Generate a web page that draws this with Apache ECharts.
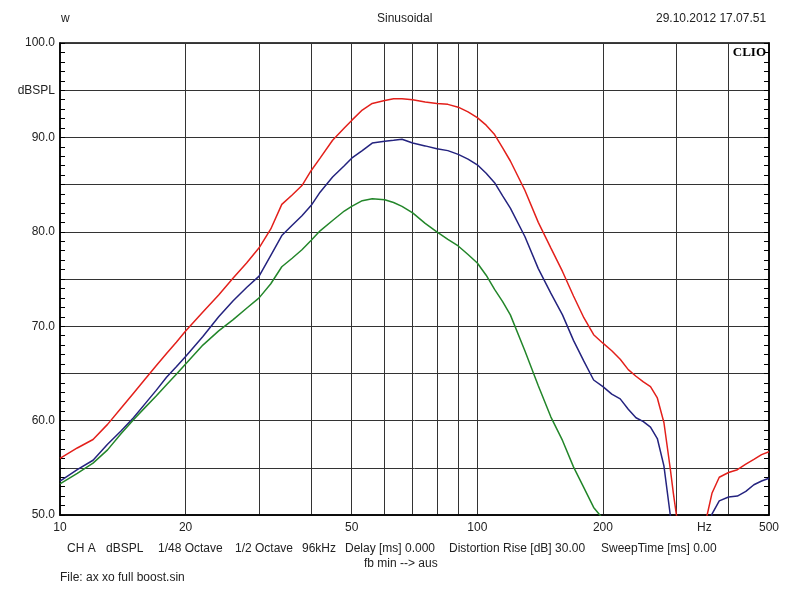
<!DOCTYPE html>
<html><head><meta charset="utf-8">
<script src="https://cdn.jsdelivr.net/npm/echarts@6/dist/echarts.min.js"></script>
<style>html,body{margin:0;padding:0;background:#fff}#c{width:800px;height:600px}</style>
</head><body><div id="c"></div>
<script>
const freqs = [10,11,12,13,14,15,16,17,18,19,20,22,24,26,28,30,32,34,36,38,40,42,45,48,50,53,56,60,63,66,70,75,80,85,90,95,100,105,110,115,120,130,140,150,160,170,180,190,200,210,220,230,240,250,260,270,280,290,295,300,320,340,355,365,380,400,420,440,460,480,500];
const redValues = [56.0,57.1,58.0,59.6,61.3,62.9,64.4,65.8,67.1,68.3,69.5,71.5,73.3,75.1,76.7,78.3,80.3,82.9,83.9,84.9,86.5,87.8,89.7,91.0,91.8,92.9,93.6,93.9,94.1,94.1,94.0,93.75,93.6,93.5,93.2,92.7,92.1,91.3,90.3,88.9,87.5,84.4,81.0,78.3,75.8,73.2,70.9,69.1,68.2,67.4,66.5,65.4,64.7,64.1,63.6,62.4,59.8,54.9,52.3,50.0,43,43,49.9,52.3,54.0,54.5,54.8,55.4,55.9,56.4,56.7];
const blueValues = [53.6,54.8,55.8,57.5,58.9,60.3,61.8,63.2,64.6,65.7,66.8,68.9,71.0,72.7,74.1,75.3,77.5,79.6,80.7,81.7,82.8,84.2,85.8,87.0,87.8,88.6,89.4,89.6,89.7,89.8,89.4,89.1,88.8,88.6,88.2,87.7,87.1,86.2,85.2,83.8,82.5,79.5,76.1,73.5,71.2,68.5,66.3,64.3,63.6,62.8,62.3,61.2,60.3,59.9,59.3,58.1,55.2,50.0,46,42,40,42,47,50.1,51.5,51.9,52.0,52.5,53.2,53.6,53.9];
const greenValues = [53.3,54.4,55.5,56.9,58.6,60.1,61.4,62.6,63.8,64.9,66.0,68.0,69.5,70.7,71.9,73.0,74.5,76.3,77.2,78.1,79.1,80.1,81.2,82.2,82.7,83.3,83.5,83.4,83.1,82.7,82.0,80.9,80.0,79.2,78.5,77.6,76.7,75.4,73.9,72.6,71.2,67.4,63.7,60.4,57.9,55.1,52.9,50.8,49.6,48,null,null,null,null,null,null,null,null,null,null,null,null,null,null,null,null,null,null,null,null,null];
const xGridValues = [20,30,40,50,60,70,80,90,100,200,300,400];
const xLabelValues = [10,20,50,100,200,350,500];
const xLabelTexts = {350:'Hz'};

const FONT = 'Liberation Sans, Arial, sans-serif';
const chart = echarts.init(document.getElementById('c'), null, {renderer:'canvas'});
const pairs = v => freqs.map((f,i)=>[f, v[i]]);
const mkSeries = (name, vals, color) => ({
  name, type:'line', data: pairs(vals), showSymbol:false, symbol:'none',
  lineStyle:{color, width:1.5}, itemStyle:{color}, clip:true, connectNulls:false, animation:false
});
const txt = (text, x, y, extra) => Object.assign({type:'text', left:x, top:y,
  style:{text, font:'12px '+FONT, fill:'#222'}}, extra||{});

chart.setOption({
  animation:false,
  backgroundColor:'#fff',
  grid:{left:60, right:31, top:43, bottom:85, show:true, borderColor:'#000', borderWidth:1.5, backgroundColor:'#fff'},
  xAxis:{
    type:'log', logBase:10, min:10, max:500,
    axisLine:{show:true, lineStyle:{color:'#000', width:1.5}},
    axisTick:{show:false, customValues:xGridValues},
    splitLine:{show:true, lineStyle:{color:'#333', width:1}},
    minorTick:{show:false}, minorSplitLine:{show:false},
    axisLabel:{customValues:xLabelValues, margin:7, color:'#222', fontFamily:FONT, fontSize:12,
      formatter: v => xLabelTexts[Math.round(v)] || String(Math.round(v))}
  },
  yAxis:[{
    type:'value', min:50, max:100, interval:5, position:'left',
    axisLine:{show:true, lineStyle:{color:'#000', width:1.5}},
    axisTick:{show:true, inside:true, length:5, lineStyle:{color:'#000'}},
    minorTick:{show:true, splitNumber:5, length:5, lineStyle:{color:'#000'}},
    splitLine:{show:true, lineStyle:{color:'#333', width:1}},
    axisLabel:{margin:5, color:'#222', fontFamily:FONT, fontSize:12,
      formatter: v => (v%10===0 ? v.toFixed(1) : (v===95 ? 'dBSPL' : ''))}
  },{
    type:'value', min:50, max:100, interval:5, position:'right',
    axisLine:{show:true, lineStyle:{color:'#000', width:1.5}},
    axisTick:{show:true, inside:true, length:5, lineStyle:{color:'#000'}},
    minorTick:{show:true, splitNumber:5, length:5, lineStyle:{color:'#000'}},
    splitLine:{show:false}, axisLabel:{show:false}
  }],
  series:[
    mkSeries('red', redValues, '#e3201b'),
    mkSeries('blue', blueValues, '#24237f'),
    mkSeries('green', greenValues, '#23862a')
  ],
  graphic:[
    txt('w', 61, 13),
    txt('Sinusoidal', 377, 13),
    txt('29.10.2012 17.07.51', 656, 13),
    {type:'text', right:34, top:46, style:{text:'CLIO', font:'bold 13px Liberation Serif, serif', fill:'#000'}},
    txt('CH A', 67, 543),
    txt('dBSPL', 106, 543),
    txt('1/48 Octave', 158, 543),
    txt('1/2 Octave', 235, 543),
    txt('96kHz', 302, 543),
    txt('Delay [ms] 0.000', 345, 543),
    txt('Distortion Rise [dB] 30.00', 449, 543),
    txt('SweepTime [ms] 0.00', 601, 543),
    txt('fb min --> aus', 364, 558),
    txt('File: ax xo full boost.sin', 60, 572)
  ]
});
</script></body></html>
